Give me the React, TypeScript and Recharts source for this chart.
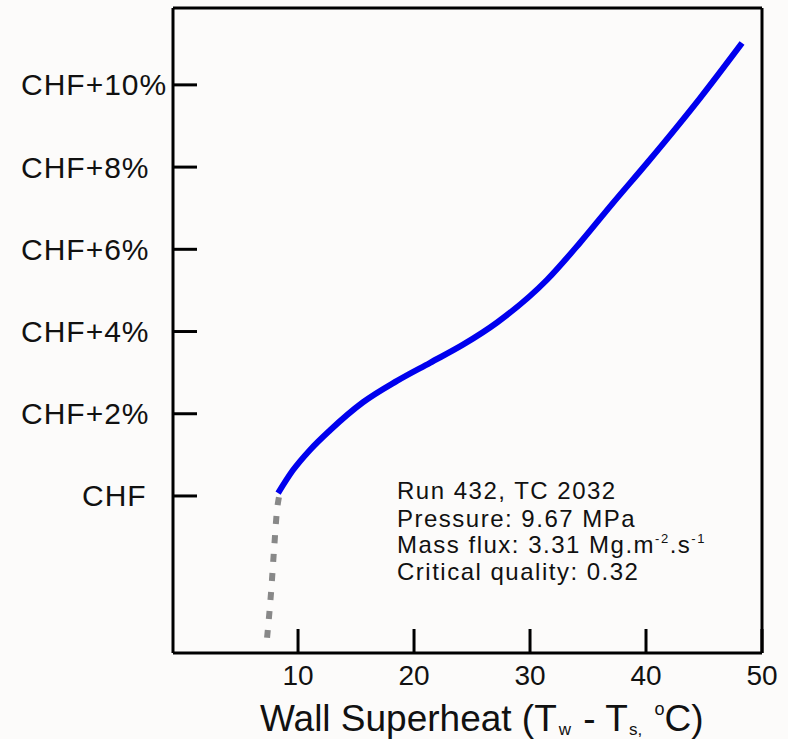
import React from "react";
import { LineChart, Line, XAxis, YAxis, ReferenceLine } from "recharts";

// --- Data ---

// measured boiling curve past CHF (wall superheat, heat flux above CHF in %)
const BOILING_X = [8.28, 9.57, 11.03, 12.76, 15.6, 18.53, 21.38, 24.22, 27.16, 31.47, 34.31, 37.16, 40.09, 42.67, 44.66, 48.28];
const BOILING_Y = [0.07, 0.63, 1.12, 1.6, 2.28, 2.8, 3.24, 3.68, 4.22, 5.26, 6.16, 7.13, 8.1, 8.98, 9.68, 11.02];

// dashed extension below CHF
const EXTRAP_X = [7.33, 7.67, 7.93, 8.19, 8.36];
const EXTRAP_Y = [-3.45, -2.36, -1.31, -0.34, -0.02];

const X_TICKS = [10, 20, 30, 40, 50];
const Y_TICKS = [0, 2, 4, 6, 8, 10];
const Y_LABELS = ["CHF", "CHF+2%", "CHF+4%", "CHF+6%", "CHF+8%", "CHF+10%"];

const X_DOMAIN: [number, number] = [-0.78, 50];
const Y_DOMAIN: [number, number] = [-3.82, 11.87];

const RUN_INFO = ["Run 432, TC 2032", "Pressure: 9.67 MPa", "Critical quality: 0.32"];

const boilingData = BOILING_X.map((x, i) => ({ x, y: BOILING_Y[i] }));
const extrapData = EXTRAP_X.map((x, i) => ({ x, y: EXTRAP_Y[i] }));

const FONT = '"Liberation Sans", Arial, Helvetica, sans-serif';
const INK = "#111";

function XTick({ x, y, payload }: any) {
  return (
    <g>
      <line x1={x} y1={y} x2={x} y2={y - 24} stroke="#000" strokeWidth={3} />
      <text x={x} y={y + 32} textAnchor="middle" fontSize={28} fill={INK} fontFamily={FONT}>
        {payload.value}
      </text>
    </g>
  );
}

function YTick({ x, y, payload }: any) {
  const i = Y_TICKS.indexOf(payload.value);
  return (
    <g>
      <line x1={x} y1={y} x2={x + 24} y2={y} stroke="#000" strokeWidth={3} />
      <text x={i === 0 ? 82 : 21} y={y} dy="0.35em" fontSize={30} letterSpacing={1} fill={INK} fontFamily={FONT}>
        {Y_LABELS[i]}
      </text>
    </g>
  );
}

function AxisTitle({ viewBox }: any) {
  const x = (viewBox?.x ?? 173) + 87;
  return (
    <text x={x} y={731} fontSize={37} fill={INK} fontFamily={FONT} style={{ whiteSpace: "pre" }}>
      Wall Superheat (T
      <tspan fontSize={17} dx={2} dy={4}>w</tspan>
      <tspan dx={2} dy={-4}> - T</tspan>
      <tspan fontSize={17} dx={1} dy={4}>s,</tspan>
      <tspan dy={-4}> </tspan>
      <tspan fontSize={18} dx={2} dy={-16}>o</tspan>
      <tspan dy={16}>C)</tspan>
    </text>
  );
}

export default function App() {
  return (
    <div style={{ position: "absolute", left: 0, top: 0, width: 788, height: 739, background: "#fcfbfa" }}>
      <LineChart width={788} height={739} margin={{ top: 8, right: 26, left: 0, bottom: 0 }}>
        <XAxis
          type="number"
          dataKey="x"
          domain={X_DOMAIN}
          ticks={X_TICKS}
          allowDataOverflow
          height={86}
          tickSize={0}
          tickMargin={0}
          tickLine={false}
          tick={<XTick />}
          axisLine={{ stroke: "#000", strokeWidth: 3 }}
          label={<AxisTitle />}
        />
        <YAxis
          type="number"
          dataKey="y"
          domain={Y_DOMAIN}
          ticks={Y_TICKS}
          allowDataOverflow
          width={173}
          tickSize={0}
          tickMargin={0}
          tickLine={false}
          tick={<YTick />}
          axisLine={{ stroke: "#000", strokeWidth: 3 }}
        />
        <ReferenceLine y={Y_DOMAIN[1]} stroke="#000" strokeWidth={3} />
        <ReferenceLine x={X_DOMAIN[1]} stroke="#000" strokeWidth={3} />
        <Line
          data={extrapData}
          dataKey="y"
          type="monotone"
          stroke="#888"
          strokeWidth={6}
          strokeDasharray="8 11"
          dot={false}
          isAnimationActive={false}
        />
        <Line
          data={boilingData}
          dataKey="y"
          type="monotone"
          stroke="#0000ee"
          strokeWidth={6}
          dot={false}
          isAnimationActive={false}
        />
      </LineChart>
      <svg
        width={788}
        height={739}
        style={{ position: "absolute", left: 0, top: 0, pointerEvents: "none" }}
        fontFamily={FONT}
        fontSize={24}
        fill={INK}
        letterSpacing={1.5}
      >
        <text x={397} y={499}>{RUN_INFO[0]}</text>
        <text x={397} y={527}>{RUN_INFO[1]}</text>
        <text x={397} y={553}>
          Mass flux: 3.31 Mg.m
          <tspan fontSize={13} dy={-10}>-2</tspan>
          <tspan dy={10}>.s</tspan>
          <tspan fontSize={13} dy={-10}>-1</tspan>
        </text>
        <text x={397} y={580}>{RUN_INFO[2]}</text>
      </svg>
    </div>
  );
}
